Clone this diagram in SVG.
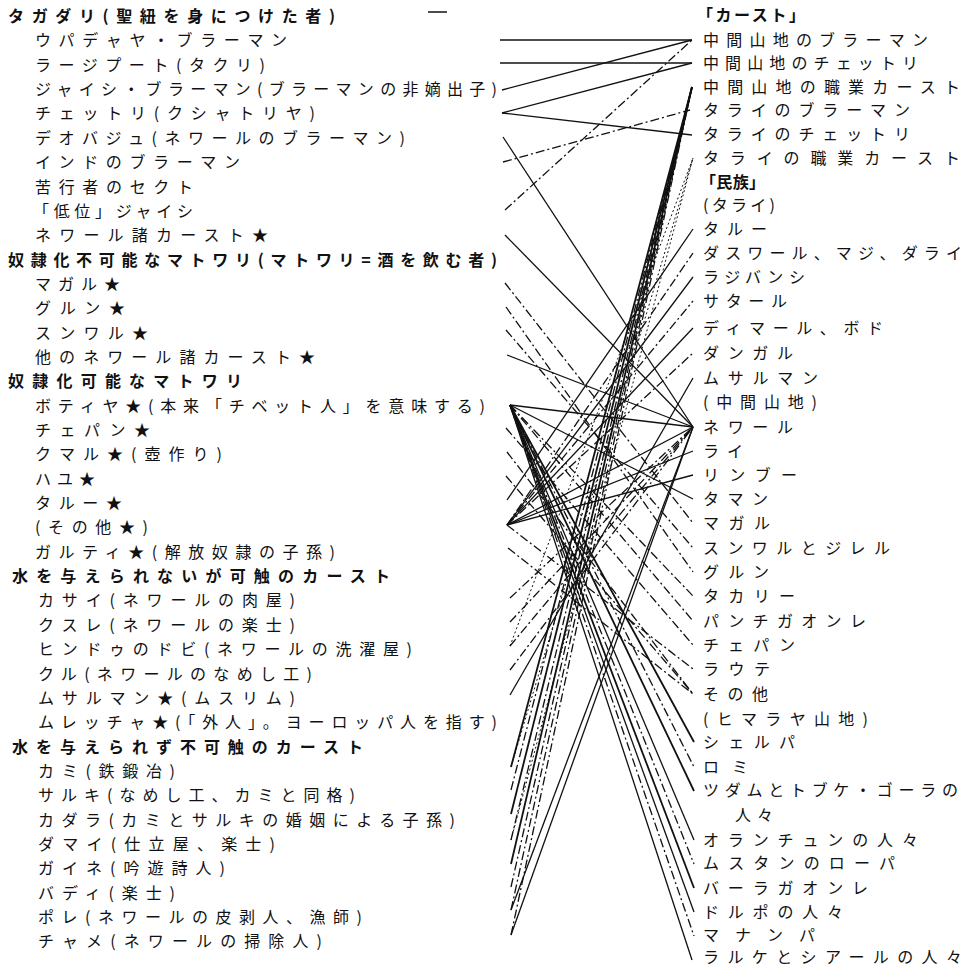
<svg xmlns="http://www.w3.org/2000/svg" width="971" height="968" viewBox="0 0 971 968">
<style>
.t{font-family:"Noto Sans CJK JP","Noto Sans CJK SC",sans-serif;font-size:16px;fill:#111}
.h{font-weight:700}
#connectors line{stroke:#111;stroke-width:1.3;fill:none}
#connectors .d{stroke-dasharray:9 3 2 3}
#connectors .o{stroke-dasharray:2 2.5;stroke-width:1}
#connectors .b{stroke-width:1.8}
</style>
<rect width="971" height="968" fill="#fff"/>
<line x1="428" y1="12" x2="447" y2="12" stroke="#111" stroke-width="1.5"/>
<g id="connectors">
<line x1="500" y1="40" x2="692" y2="40"/>
<line x1="500" y1="63" x2="692" y2="63"/>
<line x1="502" y1="90" x2="692" y2="40"/>
<line x1="502" y1="113" x2="692" y2="63"/>
<line x1="502" y1="113" x2="692" y2="135"/>
<line x1="503" y1="137" x2="693" y2="427"/>
<line class="d" x1="503" y1="162" x2="690" y2="110"/>
<line class="d" x1="505" y1="210" x2="692" y2="40"/>
<line x1="505" y1="235" x2="693" y2="427"/>
<line class="d" x1="505" y1="283" x2="693" y2="523"/>
<line class="d" x1="506" y1="307" x2="693" y2="572"/>
<line class="d" x1="506" y1="330" x2="693" y2="548"/>
<line x1="507" y1="355" x2="693" y2="427"/>
<line x1="510" y1="405" x2="693" y2="427"/>
<line x1="510" y1="405" x2="693" y2="499"/>
<line class="d" x1="510" y1="405" x2="693" y2="596"/>
<line class="d" x1="510" y1="405" x2="693" y2="621"/>
<line class="b" x1="510" y1="405" x2="694" y2="742"/>
<line class="d" x1="510" y1="405" x2="694" y2="767"/>
<line class="b" x1="510" y1="405" x2="694" y2="791"/>
<line x1="510" y1="405" x2="694" y2="840"/>
<line class="d" x1="510" y1="405" x2="694" y2="864"/>
<line class="b" x1="510" y1="405" x2="694" y2="888"/>
<line x1="510" y1="405" x2="694" y2="912"/>
<line class="d" x1="510" y1="405" x2="694" y2="936"/>
<line x1="510" y1="405" x2="692" y2="960"/>
<line class="d" x1="506" y1="428" x2="693" y2="645"/>
<line class="d" x1="507" y1="452" x2="693" y2="694"/>
<line class="d" x1="506" y1="476" x2="693" y2="694"/>
<line x1="507" y1="500" x2="693" y2="229"/>
<line class="d" x1="507" y1="525" x2="693" y2="253"/>
<line x1="507" y1="525" x2="693" y2="277"/>
<line class="d" x1="507" y1="525" x2="693" y2="301"/>
<line x1="507" y1="525" x2="693" y2="328"/>
<line class="d" x1="507" y1="525" x2="693" y2="353"/>
<line x1="507" y1="525" x2="693" y2="427"/>
<line x1="507" y1="525" x2="693" y2="451"/>
<line x1="507" y1="525" x2="693" y2="475"/>
<line class="d" x1="507" y1="525" x2="693" y2="669"/>
<line class="d" x1="508" y1="548" x2="693" y2="694"/>
<line class="d" x1="510" y1="598" x2="693" y2="427"/>
<line class="d" x1="510" y1="622" x2="693" y2="427"/>
<line class="d" x1="510" y1="646" x2="693" y2="427"/>
<line class="d" x1="510" y1="670" x2="693" y2="427"/>
<line x1="510" y1="695" x2="693" y2="378"/>
<line class="b" x1="511" y1="767" x2="692" y2="87"/>
<line class="d" x1="511" y1="790" x2="692" y2="87"/>
<line class="b" x1="511" y1="814" x2="692" y2="87"/>
<line class="d" x1="511" y1="840" x2="692" y2="87"/>
<line class="b" x1="511" y1="864" x2="692" y2="87"/>
<line class="d" x1="511" y1="887" x2="692" y2="87"/>
<line class="d" x1="511" y1="910" x2="692" y2="87"/>
<line class="d" x1="511" y1="935" x2="692" y2="87"/>
<line class="o" x1="510" y1="646" x2="693" y2="158"/>
<line class="o" x1="511" y1="767" x2="693" y2="158"/>
<line class="o" x1="511" y1="840" x2="693" y2="158"/>
<line x1="511" y1="910" x2="693" y2="427"/>
<line x1="511" y1="935" x2="693" y2="427"/>
</g>
<g id="L0"><text class="t h" x="8" y="22" textLength="327" lengthAdjust="spacing">タガダリ(聖紐を身につけた者)</text></g>
<g id="L1"><text class="t" x="35" y="46.4" textLength="252" lengthAdjust="spacing">ウパデャヤ・ブラーマン</text></g>
<g id="L2"><text class="t" x="35" y="70.7" textLength="230" lengthAdjust="spacing">ラージプート(タクリ)</text></g>
<g id="L3"><text class="t" x="35" y="95.1" textLength="462" lengthAdjust="spacing">ジャイシ・ブラーマン(ブラーマンの非嫡出子)</text></g>
<g id="L4"><text class="t" x="35" y="119.4" textLength="280" lengthAdjust="spacing">チェットリ(クシャトリヤ)</text></g>
<g id="L5"><text class="t" x="35" y="143.8" textLength="370" lengthAdjust="spacing">デオバジュ(ネワールのブラーマン)</text></g>
<g id="L6"><text class="t" x="35" y="168.1" textLength="205" lengthAdjust="spacing">インドのブラーマン</text></g>
<g id="L7"><text class="t" x="35" y="192.5" textLength="158" lengthAdjust="spacing">苦行者のセクト</text></g>
<g id="L8"><text class="t" x="33" y="216.8" textLength="160" lengthAdjust="spacing">「低位」ジャイシ</text></g>
<g id="L9"><text class="t" x="35" y="241.2" textLength="233" lengthAdjust="spacing">ネワール諸カースト★</text></g>
<g id="L10"><text class="t h" x="8" y="265.5" textLength="489" lengthAdjust="spacing">奴隷化不可能なマトワリ(マトワリ=酒を飲む者)</text></g>
<g id="L11"><text class="t" x="35" y="289.9" textLength="85" lengthAdjust="spacing">マガル★</text></g>
<g id="L12"><text class="t" x="35" y="314.2" textLength="90" lengthAdjust="spacing">グルン★</text></g>
<g id="L13"><text class="t" x="35" y="338.6" textLength="113" lengthAdjust="spacing">スンワル★</text></g>
<g id="L14"><text class="t" x="35" y="362.9" textLength="280" lengthAdjust="spacing">他のネワール諸カースト★</text></g>
<g id="L15"><text class="t h" x="8" y="387.3" textLength="234" lengthAdjust="spacing">奴隷化可能なマトワリ</text></g>
<g id="L16"><text class="t" x="35" y="411.6" textLength="450" lengthAdjust="spacing">ボティヤ★(本来「チベット人」を意味する)</text></g>
<g id="L17"><text class="t" x="35" y="436" textLength="115" lengthAdjust="spacing">チェパン★</text></g>
<g id="L18"><text class="t" x="35" y="460.3" textLength="187" lengthAdjust="spacing">クマル★(壺作り)</text></g>
<g id="L19"><text class="t" x="35" y="484.7" textLength="60" lengthAdjust="spacing">ハユ★</text></g>
<g id="L20"><text class="t" x="35" y="509" textLength="87" lengthAdjust="spacing">タルー★</text></g>
<g id="L21"><text class="t" x="35" y="533.4" textLength="113" lengthAdjust="spacing">(その他★)</text></g>
<g id="L22"><text class="t" x="35" y="557.7" textLength="300" lengthAdjust="spacing">ガルティ★(解放奴隷の子孫)</text></g>
<g id="L23"><text class="t h" x="12" y="582.1" textLength="378" lengthAdjust="spacing">水を与えられないが可触のカースト</text></g>
<g id="L24"><text class="t" x="38" y="606.4" textLength="257" lengthAdjust="spacing">カサイ(ネワールの肉屋)</text></g>
<g id="L25"><text class="t" x="38" y="630.8" textLength="257" lengthAdjust="spacing">クスレ(ネワールの楽士)</text></g>
<g id="L26"><text class="t" x="38" y="655.1" textLength="374" lengthAdjust="spacing">ヒンドゥのドビ(ネワールの洗濯屋)</text></g>
<g id="L27"><text class="t" x="38" y="679.5" textLength="274" lengthAdjust="spacing">クル(ネワールのなめし工)</text></g>
<g id="L28"><text class="t" x="38" y="703.8" textLength="257" lengthAdjust="spacing">ムサルマン★(ムスリム)</text></g>
<g id="L29"><text class="t" x="38" y="728.2" textLength="459" lengthAdjust="spacing">ムレッチャ★(「外人」。ヨーロッパ人を指す)</text></g>
<g id="L30"><text class="t h" x="12" y="752.5" textLength="351" lengthAdjust="spacing">水を与えられず不可触のカースト</text></g>
<g id="L31"><text class="t" x="38" y="776.9" textLength="137" lengthAdjust="spacing">カミ(鉄鍛冶)</text></g>
<g id="L32"><text class="t" x="38" y="801.2" textLength="317" lengthAdjust="spacing">サルキ(なめし工、カミと同格)</text></g>
<g id="L33"><text class="t" x="38" y="825.6" textLength="417" lengthAdjust="spacing">カダラ(カミとサルキの婚姻による子孫)</text></g>
<g id="L34"><text class="t" x="38" y="849.9" textLength="237" lengthAdjust="spacing">ダマイ(仕立屋、楽士)</text></g>
<g id="L35"><text class="t" x="38" y="874.3" textLength="187" lengthAdjust="spacing">ガイネ(吟遊詩人)</text></g>
<g id="L36"><text class="t" x="38" y="898.6" textLength="137" lengthAdjust="spacing">バディ(楽士)</text></g>
<g id="L37"><text class="t" x="38" y="923" textLength="324" lengthAdjust="spacing">ポレ(ネワールの皮剥人、漁師)</text></g>
<g id="L38"><text class="t" x="38" y="947.3" textLength="284" lengthAdjust="spacing">チャメ(ネワールの掃除人)</text></g>
<g id="R0"><text class="t h" x="697" y="21" textLength="108" lengthAdjust="spacing">「カースト」</text></g>
<g id="R1"><text class="t" x="703" y="46" textLength="225" lengthAdjust="spacing">中間山地のブラーマン</text></g>
<g id="R2"><text class="t" x="703" y="69" textLength="215" lengthAdjust="spacing">中間山地のチェットリ</text></g>
<g id="R3"><text class="t" x="703" y="93" textLength="257" lengthAdjust="spacing">中間山地の職業カースト</text></g>
<g id="R4"><text class="t" x="703" y="116" textLength="207" lengthAdjust="spacing">タライのブラーマン</text></g>
<g id="R5"><text class="t" x="703" y="140" textLength="207" lengthAdjust="spacing">タライのチェットリ</text></g>
<g id="R6"><text class="t" x="703" y="164" textLength="257" lengthAdjust="spacing">タライの職業カースト</text></g>
<g id="R7"><text class="t h" x="700" y="188" textLength="65" lengthAdjust="spacing">「民族」</text></g>
<g id="R8"><text class="t" x="703" y="211" textLength="72" lengthAdjust="spacing">(タライ)</text></g>
<g id="R9"><text class="t" x="703" y="235" textLength="64" lengthAdjust="spacing">タルー</text></g>
<g id="R10"><text class="t" x="703" y="259" textLength="259" lengthAdjust="spacing">ダスワール、マジ、ダライ</text></g>
<g id="R11"><text class="t" x="703" y="283" textLength="102" lengthAdjust="spacing">ラジバンシ</text></g>
<g id="R12"><text class="t" x="703" y="307" textLength="84" lengthAdjust="spacing">サタール</text></g>
<g id="R13"><text class="t" x="703" y="334" textLength="180" lengthAdjust="spacing">ディマール、ボド</text></g>
<g id="R14"><text class="t" x="703" y="359" textLength="90" lengthAdjust="spacing">ダンガル</text></g>
<g id="R15"><text class="t" x="703" y="384" textLength="115" lengthAdjust="spacing">ムサルマン</text></g>
<g id="R16"><text class="t" x="703" y="408" textLength="114" lengthAdjust="spacing">(中間山地)</text></g>
<g id="R17"><text class="t" x="703" y="433" textLength="90" lengthAdjust="spacing">ネワール</text></g>
<g id="R18"><text class="t" x="703" y="457" textLength="40" lengthAdjust="spacing">ライ</text></g>
<g id="R19"><text class="t" x="703" y="481" textLength="94" lengthAdjust="spacing">リンブー</text></g>
<g id="R20"><text class="t" x="703" y="505" textLength="65" lengthAdjust="spacing">タマン</text></g>
<g id="R21"><text class="t" x="703" y="529" textLength="67" lengthAdjust="spacing">マガル</text></g>
<g id="R22"><text class="t" x="703" y="554" textLength="187" lengthAdjust="spacing">スンワルとジレル</text></g>
<g id="R23"><text class="t" x="703" y="578" textLength="66" lengthAdjust="spacing">グルン</text></g>
<g id="R24"><text class="t" x="703" y="602" textLength="92" lengthAdjust="spacing">タカリー</text></g>
<g id="R25"><text class="t" x="703" y="627" textLength="163" lengthAdjust="spacing">パンチガオンレ</text></g>
<g id="R26"><text class="t" x="703" y="651" textLength="92" lengthAdjust="spacing">チェパン</text></g>
<g id="R27"><text class="t" x="703" y="675" textLength="67" lengthAdjust="spacing">ラウテ</text></g>
<g id="R28"><text class="t" x="703" y="700" textLength="65" lengthAdjust="spacing">その他</text></g>
<g id="R29"><text class="t" x="703" y="725" textLength="165" lengthAdjust="spacing">(ヒマラヤ山地)</text></g>
<g id="R30"><text class="t" x="703" y="748" textLength="92" lengthAdjust="spacing">シェルパ</text></g>
<g id="R31"><text class="t" x="703" y="773" textLength="45" lengthAdjust="spacing">ロミ</text></g>
<g id="R32"><text class="t" x="703" y="796" textLength="255" lengthAdjust="spacing">ツダムとトブケ・ゴーラの</text><text class="t" x="735" y="821" textLength="38" lengthAdjust="spacing">人々</text></g>
<g id="R33"><text class="t" x="703" y="846" textLength="215" lengthAdjust="spacing">オランチュンの人々</text></g>
<g id="R34"><text class="t" x="703" y="869" textLength="192" lengthAdjust="spacing">ムスタンのローパ</text></g>
<g id="R35"><text class="t" x="703" y="894" textLength="165" lengthAdjust="spacing">バーラガオンレ</text></g>
<g id="R36"><text class="t" x="703" y="918" textLength="140" lengthAdjust="spacing">ドルポの人々</text></g>
<g id="R37"><text class="t" x="703" y="941" textLength="112" lengthAdjust="spacing">マナンパ</text></g>
<g id="R38"><text class="t" x="703" y="963" textLength="259" lengthAdjust="spacing">ラルケとシアールの人々</text></g>
</svg>
